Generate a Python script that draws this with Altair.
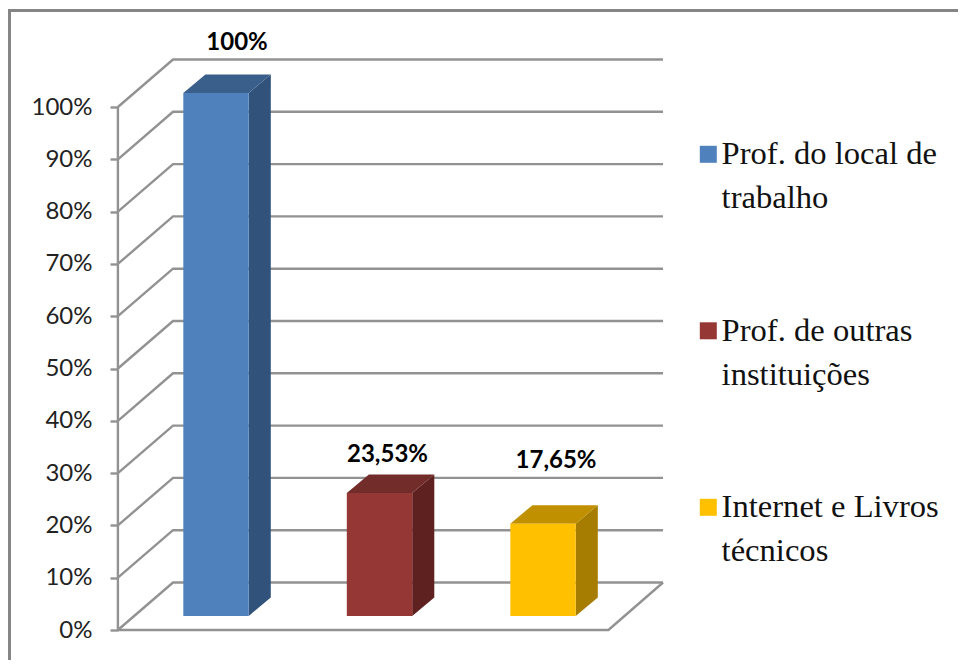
import altair as alt
import pandas as pd

categories = ["Prof. do local de\ntrabalho", "Prof. de outras\ninstituições", "Internet e Livros\ntécnicos"]
values = [100, 23.53, 17.65]
value_labels = ["100%", "23,53%", "17,65%"]
ticks = [0, 10, 20, 30, 40, 50, 60, 70, 80, 90, 100]
front_colors = ["#4F81BD", "#953735", "#FFC000"]
top_colors = ["#3A5F8B", "#722C2A", "#C09000"]
side_colors = ["#31527A", "#5F2120", "#A67D00"]
label_dx = [21, 8, 13]
label_dy = [-50, -38, -63]

# 3D geometry, in axis units
X_MIN, X_MAX = -1.2722, 4.538
Y_MIN, Y_MAX = -5.736, 118.93
WALL_L, WALL_R, FLOOR_R = -0.6, 2.734, 2.4
WALL_DX, WALL_DV = 0.337, 9.08
HALF = 0.2
BAR_DX, BAR_DV = 0.135, 3.54
BASE = 2.68
FRAME_X, FRAME_V = -1.263, 118.45
GRID = "#929292"

xs = alt.Scale(domain=[X_MIN, X_MAX], nice=False, zero=False)
ys = alt.Scale(domain=[Y_MIN, Y_MAX], nice=False, zero=False)
y_axis = alt.Axis(values=ticks, labelExpr="datum.value + '%'", domain=False, grid=False,
                  offset=-110, tickSize=8, tickColor=GRID, tickWidth=2.4,
                  labelFont="Lato", labelFontSize=24, labelColor="#222222", labelPadding=18,
                  labelBaseline="middle", labelFlush=False, labelOverlap=False)
X = lambda f: alt.X(f, type="quantitative", scale=xs, axis=None)
Y = lambda f: alt.Y(f, type="quantitative", scale=ys, axis=y_axis, title=None)

grid_rows = []
for t in ticks:
    for o, (x, v) in enumerate([(WALL_L, t), (WALL_L + WALL_DX, t + WALL_DV), (WALL_R, t + WALL_DV)]):
        grid_rows.append({"g": f"t{t}", "o": o, "x": x, "v": v})
for o, (x, v) in enumerate([(WALL_L, 0), (FLOOR_R, 0), (WALL_R, WALL_DV)]):
    grid_rows.append({"g": "floor", "o": o, "x": x, "v": v})
for o, v in enumerate([0, 100]):
    grid_rows.append({"g": "axis", "o": o, "x": WALL_L, "v": v})
grid = alt.Chart(pd.DataFrame(grid_rows)).mark_line(color=GRID, strokeWidth=2.4).encode(
    x=X("x"), y=Y("v"), detail="g:N", order="o:Q")

frame = alt.Chart(pd.DataFrame([
    {"g": "f", "o": 0, "x": FRAME_X, "v": Y_MIN},
    {"g": "f", "o": 1, "x": FRAME_X, "v": FRAME_V},
    {"g": "f", "o": 2, "x": X_MAX, "v": FRAME_V},
])).mark_line(color="#858585", strokeWidth=3).encode(x=X("x"), y=Y("v"), detail="g:N", order="o:Q")

layers = [frame, grid]

side_rows, top_rows, front_rows = [], [], []
for i, (c, val) in enumerate(zip(categories, values)):
    r = i + HALF
    side_rows += [
        {"c": c, "x": r, "lo": BASE, "hi": val + BASE},
        {"c": c, "x": r + BAR_DX, "lo": BASE + BAR_DV, "hi": val + BASE + BAR_DV},
    ]
    top_rows += [
        {"c": c, "v": val + BASE, "l": i - HALF, "r": r},
        {"c": c, "v": val + BASE + BAR_DV, "l": i - HALF + BAR_DX, "r": r + BAR_DX},
    ]
    front_rows.append({"c": c, "l": i - HALF, "r": r, "lo": BASE, "hi": val + BASE})

layers.append(alt.Chart(pd.DataFrame(side_rows)).mark_area(interpolate="linear").encode(
    x=X("x"), y=Y("lo"), y2="hi:Q",
    fill=alt.Fill("c:N", scale=alt.Scale(domain=categories, range=side_colors), legend=None)))
layers.append(alt.Chart(pd.DataFrame(top_rows)).mark_area(orient="horizontal", interpolate="linear").encode(
    y=Y("v"), x=X("l"), x2="r:Q",
    fill=alt.Fill("c:N", scale=alt.Scale(domain=categories, range=top_colors), legend=None)))
layers.append(alt.Chart(pd.DataFrame(front_rows)).mark_rect().encode(
    x=X("l"), x2="r:Q", y=Y("lo"), y2="hi:Q",
    color=alt.Color("c:N", sort=categories,
                    scale=alt.Scale(domain=categories, range=front_colors),
                    legend=alt.Legend(orient="none", legendX=684, legendY=130, title=None,
                                      symbolType="square", symbolSize=289, symbolStrokeWidth=0,
                                      labelExpr="split(datum.label, '\\n')",
                                      labelFont="Liberation Serif", labelFontSize=32.6, labelColor="#111111",
                                      labelLimit=500, labelOffset={"expr": "-3"}, rowPadding=99.5,
                                      padding=0))))

for i, val in enumerate(values):
    layers.append(alt.Chart(pd.DataFrame([{"x": float(i), "v": val + BASE, "t": value_labels[i]}]))
                  .mark_text(font="Lato", fontWeight="bold", fontSize=24, color="#000000",
                             dx=label_dx[i], dy=label_dy[i], baseline="middle")
                  .encode(x=X("x"), y=Y("v"), text="t:N"))

chart = alt.layer(*layers).resolve_scale(fill="independent", color="independent").properties(
    width=950, height=652, padding=0, autosize=alt.AutoSizeParams(type="none"),
    background="#ffffff",
).configure_view(strokeWidth=0)
chart.config.style = {"guide-label": {"lineHeight": 44}}

chart.save("out.html", embed_options={"renderer": "svg", "actions": False})
